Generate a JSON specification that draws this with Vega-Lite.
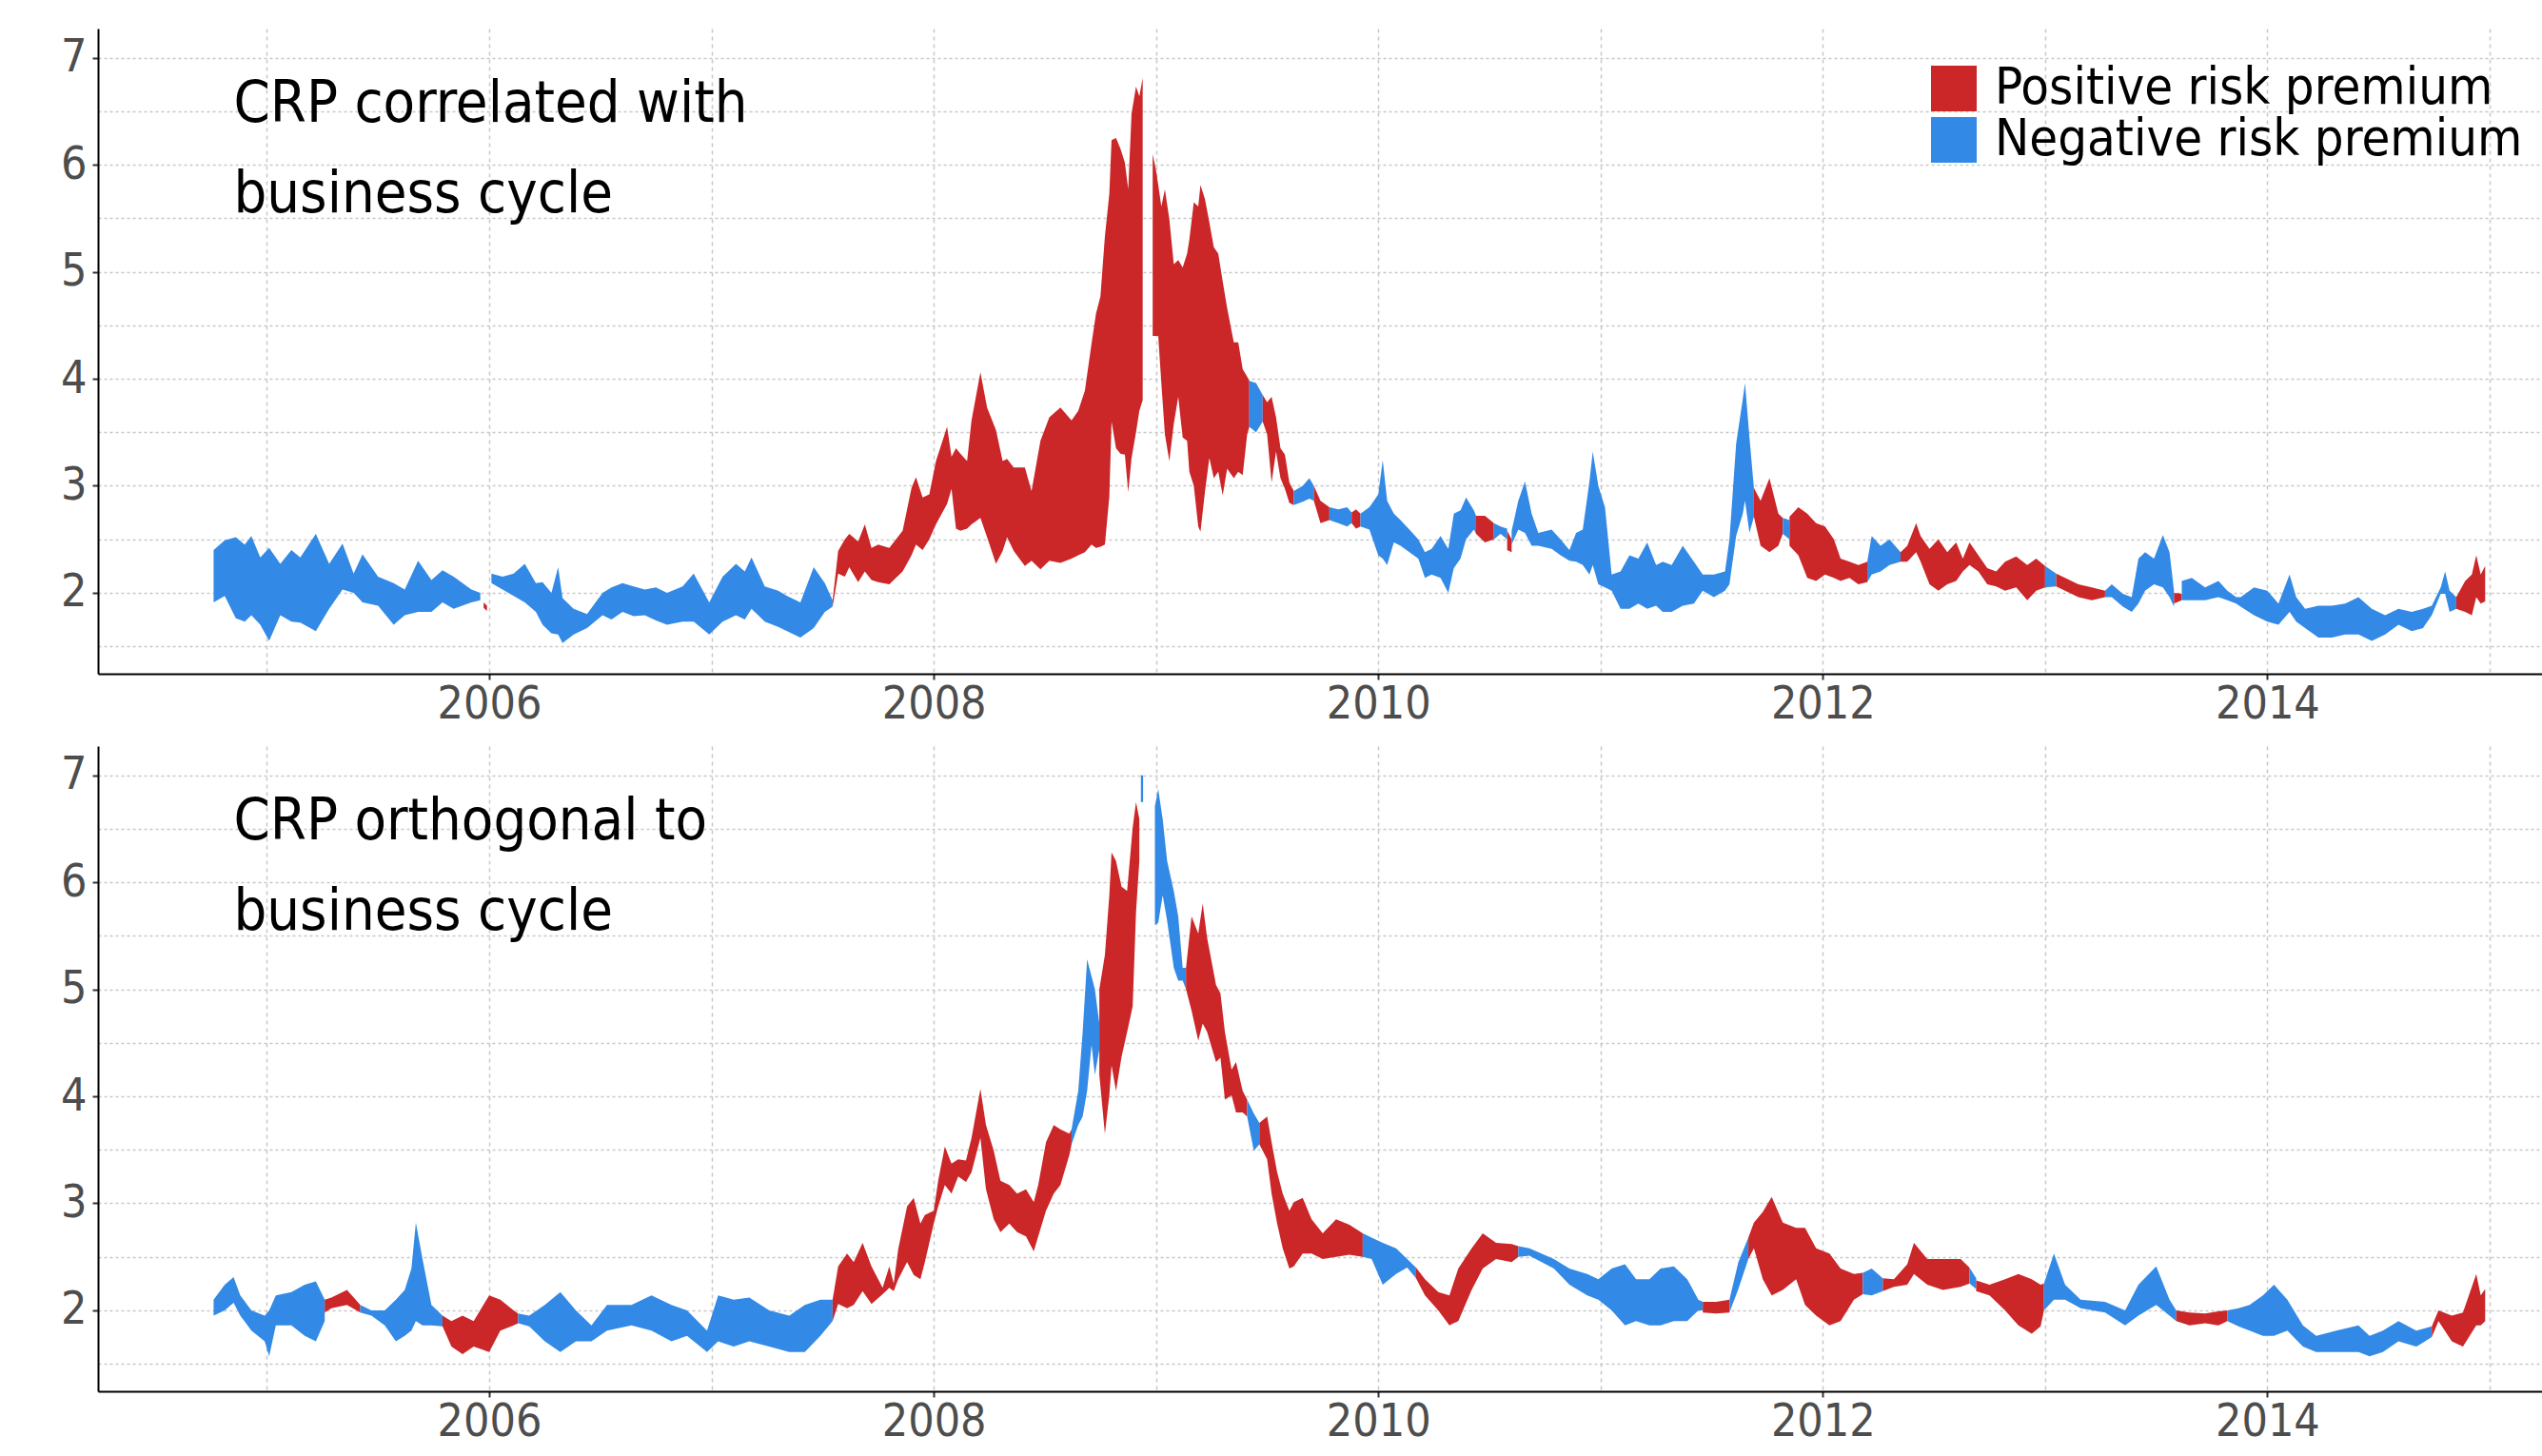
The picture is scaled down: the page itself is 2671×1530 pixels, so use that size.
{
"$schema": "https://vega.github.io/schema/vega-lite/v6.json",
"autosize": {"type": "pad"},
"padding": {"left": 63, "top": 30, "right": 0, "bottom": 0},
"bounds": "flush",
"spacing": 76,
"background": "white",
"config": {"view": {"stroke": null}, "font": "DejaVu Sans Condensed, Liberation Sans"},
"datasets": {
"top": [
{"s":1,"c":"N","t":2004.76,"lo":1.91,"hi":2.40},{"s":1,"c":"N","t":2004.81,"lo":1.97,"hi":2.49},{"s":1,"c":"N","t":2004.86,"lo":1.76,"hi":2.52},{"s":1,"c":"N","t":2004.90,"lo":1.73,"hi":2.45},{"s":1,"c":"N","t":2004.93,"lo":1.79,"hi":2.53},{"s":1,"c":"N","t":2004.97,"lo":1.70,"hi":2.33},{"s":1,"c":"N","t":2005.01,"lo":1.55,"hi":2.42},{"s":1,"c":"N","t":2005.06,"lo":1.79,"hi":2.27},{"s":1,"c":"N","t":2005.11,"lo":1.73,"hi":2.40},{"s":1,"c":"N","t":2005.15,"lo":1.72,"hi":2.33},{"s":1,"c":"N","t":2005.22,"lo":1.64,"hi":2.55},{"s":1,"c":"N","t":2005.28,"lo":1.85,"hi":2.27},{"s":1,"c":"N","t":2005.34,"lo":2.03,"hi":2.46},{"s":1,"c":"N","t":2005.39,"lo":2.00,"hi":2.18},{"s":1,"c":"N","t":2005.43,"lo":1.91,"hi":2.36},{"s":1,"c":"N","t":2005.50,"lo":1.88,"hi":2.15},{"s":1,"c":"N","t":2005.57,"lo":1.70,"hi":2.09},{"s":1,"c":"N","t":2005.62,"lo":1.79,"hi":2.03},{"s":1,"c":"N","t":2005.68,"lo":1.82,"hi":2.30},{"s":1,"c":"N","t":2005.74,"lo":1.82,"hi":2.12},{"s":1,"c":"N","t":2005.79,"lo":1.91,"hi":2.21},{"s":1,"c":"N","t":2005.84,"lo":1.85,"hi":2.15},{"s":1,"c":"N","t":2005.92,"lo":1.91,"hi":2.03},{"s":1,"c":"N","t":2005.96,"lo":1.93,"hi":2.00},
{"s":2,"c":"P","t":2005.975,"lo":1.86,"hi":1.91},{"s":2,"c":"P","t":2005.99,"lo":1.83,"hi":1.88},
{"s":3,"c":"N","t":2006.01,"lo":2.09,"hi":2.18},{"s":3,"c":"N","t":2006.06,"lo":2.03,"hi":2.15},{"s":3,"c":"N","t":2006.11,"lo":1.97,"hi":2.18},{"s":3,"c":"N","t":2006.16,"lo":1.91,"hi":2.27},{"s":3,"c":"N","t":2006.21,"lo":1.82,"hi":2.09},{"s":3,"c":"N","t":2006.24,"lo":1.70,"hi":2.10},{"s":3,"c":"N","t":2006.28,"lo":1.62,"hi":2.00},{"s":3,"c":"N","t":2006.31,"lo":1.61,"hi":2.24},{"s":3,"c":"N","t":2006.33,"lo":1.53,"hi":1.95},{"s":3,"c":"N","t":2006.38,"lo":1.61,"hi":1.85},{"s":3,"c":"N","t":2006.44,"lo":1.67,"hi":1.80},{"s":3,"c":"N","t":2006.51,"lo":1.79,"hi":2.00},{"s":3,"c":"N","t":2006.55,"lo":1.75,"hi":2.05},{"s":3,"c":"N","t":2006.60,"lo":1.82,"hi":2.09},{"s":3,"c":"N","t":2006.65,"lo":1.78,"hi":2.06},{"s":3,"c":"N","t":2006.70,"lo":1.79,"hi":2.03},{"s":3,"c":"N","t":2006.75,"lo":1.74,"hi":2.05},{"s":3,"c":"N","t":2006.80,"lo":1.70,"hi":2.00},{"s":3,"c":"N","t":2006.87,"lo":1.73,"hi":2.06},{"s":3,"c":"N","t":2006.92,"lo":1.73,"hi":2.18},{"s":3,"c":"N","t":2006.99,"lo":1.61,"hi":1.91},{"s":3,"c":"N","t":2007.05,"lo":1.73,"hi":2.15},{"s":3,"c":"N","t":2007.11,"lo":1.79,"hi":2.27},{"s":3,"c":"N","t":2007.15,"lo":1.75,"hi":2.20},{"s":3,"c":"N","t":2007.18,"lo":1.85,"hi":2.33},{"s":3,"c":"N","t":2007.24,"lo":1.73,"hi":2.06},{"s":3,"c":"N","t":2007.30,"lo":1.68,"hi":2.02},{"s":3,"c":"N","t":2007.34,"lo":1.64,"hi":1.97},{"s":3,"c":"N","t":2007.40,"lo":1.58,"hi":1.91},{"s":3,"c":"N","t":2007.46,"lo":1.67,"hi":2.24},{"s":3,"c":"N","t":2007.51,"lo":1.82,"hi":2.09},{"s":3,"c":"N","t":2007.545,"lo":1.87,"hi":1.93},
{"s":4,"c":"P","t":2007.545,"lo":1.87,"hi":1.93},{"s":4,"c":"P","t":2007.57,"lo":2.18,"hi":2.39},{"s":4,"c":"P","t":2007.60,"lo":2.15,"hi":2.50},{"s":4,"c":"P","t":2007.62,"lo":2.24,"hi":2.55},{"s":4,"c":"P","t":2007.66,"lo":2.10,"hi":2.48},{"s":4,"c":"P","t":2007.69,"lo":2.20,"hi":2.64},{"s":4,"c":"P","t":2007.72,"lo":2.12,"hi":2.42},{"s":4,"c":"P","t":2007.75,"lo":2.10,"hi":2.45},{"s":4,"c":"P","t":2007.80,"lo":2.08,"hi":2.42},{"s":4,"c":"P","t":2007.86,"lo":2.20,"hi":2.58},{"s":4,"c":"P","t":2007.90,"lo":2.35,"hi":2.98},{"s":4,"c":"P","t":2007.92,"lo":2.45,"hi":3.08},{"s":4,"c":"P","t":2007.95,"lo":2.40,"hi":2.89},{"s":4,"c":"P","t":2007.98,"lo":2.50,"hi":2.92},{"s":4,"c":"P","t":2008.01,"lo":2.64,"hi":3.23},{"s":4,"c":"P","t":2008.06,"lo":2.83,"hi":3.55},{"s":4,"c":"P","t":2008.08,"lo":2.97,"hi":3.27},{"s":4,"c":"P","t":2008.10,"lo":2.60,"hi":3.35},{"s":4,"c":"P","t":2008.12,"lo":2.58,"hi":3.30},{"s":4,"c":"P","t":2008.15,"lo":2.60,"hi":3.23},{"s":4,"c":"P","t":2008.17,"lo":2.64,"hi":3.61},{"s":4,"c":"P","t":2008.21,"lo":2.70,"hi":4.06},{"s":4,"c":"P","t":2008.24,"lo":2.52,"hi":3.73},{"s":4,"c":"P","t":2008.28,"lo":2.27,"hi":3.52},{"s":4,"c":"P","t":2008.31,"lo":2.39,"hi":3.23},{"s":4,"c":"P","t":2008.33,"lo":2.52,"hi":3.25},{"s":4,"c":"P","t":2008.36,"lo":2.39,"hi":3.17},{"s":4,"c":"P","t":2008.41,"lo":2.25,"hi":3.17},{"s":4,"c":"P","t":2008.44,"lo":2.30,"hi":2.95},{"s":4,"c":"P","t":2008.48,"lo":2.22,"hi":3.42},{"s":4,"c":"P","t":2008.52,"lo":2.30,"hi":3.64},{"s":4,"c":"P","t":2008.57,"lo":2.28,"hi":3.73},{"s":4,"c":"P","t":2008.62,"lo":2.32,"hi":3.61},{"s":4,"c":"P","t":2008.65,"lo":2.35,"hi":3.70},{"s":4,"c":"P","t":2008.68,"lo":2.38,"hi":3.89},{"s":4,"c":"P","t":2008.71,"lo":2.45,"hi":4.33},{"s":4,"c":"P","t":2008.73,"lo":2.42,"hi":4.61},{"s":4,"c":"P","t":2008.75,"lo":2.43,"hi":4.77},{"s":4,"c":"P","t":2008.77,"lo":2.45,"hi":5.33},{"s":4,"c":"P","t":2008.79,"lo":2.90,"hi":5.73},{"s":4,"c":"P","t":2008.80,"lo":3.60,"hi":6.23},{"s":4,"c":"P","t":2008.82,"lo":3.35,"hi":6.25},{"s":4,"c":"P","t":2008.84,"lo":3.30,"hi":6.15},{"s":4,"c":"P","t":2008.86,"lo":3.29,"hi":6.02},{"s":4,"c":"P","t":2008.875,"lo":2.94,"hi":5.77},{"s":4,"c":"P","t":2008.89,"lo":3.26,"hi":6.48},{"s":4,"c":"P","t":2008.91,"lo":3.50,"hi":6.73},{"s":4,"c":"P","t":2008.925,"lo":3.70,"hi":6.64},{"s":4,"c":"P","t":2008.94,"lo":3.80,"hi":6.81},
{"s":5,"c":"P","t":2008.985,"lo":4.40,"hi":6.10},{"s":5,"c":"P","t":2009.00,"lo":4.40,"hi":5.95},{"s":5,"c":"P","t":2009.01,"lo":4.40,"hi":5.81},{"s":5,"c":"P","t":2009.024,"lo":3.96,"hi":5.61},{"s":5,"c":"P","t":2009.04,"lo":3.48,"hi":5.77},{"s":5,"c":"P","t":2009.06,"lo":3.23,"hi":5.49},{"s":5,"c":"P","t":2009.08,"lo":3.58,"hi":5.07},{"s":5,"c":"P","t":2009.10,"lo":3.83,"hi":5.11},{"s":5,"c":"P","t":2009.12,"lo":3.45,"hi":5.04},{"s":5,"c":"P","t":2009.14,"lo":3.42,"hi":5.17},{"s":5,"c":"P","t":2009.15,"lo":3.13,"hi":5.30},{"s":5,"c":"P","t":2009.17,"lo":3.00,"hi":5.65},{"s":5,"c":"P","t":2009.19,"lo":2.62,"hi":5.61},{"s":5,"c":"P","t":2009.20,"lo":2.57,"hi":5.81},{"s":5,"c":"P","t":2009.22,"lo":2.94,"hi":5.68},{"s":5,"c":"P","t":2009.24,"lo":3.26,"hi":5.46},{"s":5,"c":"P","t":2009.26,"lo":3.07,"hi":5.23},{"s":5,"c":"P","t":2009.28,"lo":3.13,"hi":5.17},{"s":5,"c":"P","t":2009.30,"lo":2.91,"hi":4.91},{"s":5,"c":"P","t":2009.32,"lo":3.16,"hi":4.66},{"s":5,"c":"P","t":2009.35,"lo":3.07,"hi":4.34},{"s":5,"c":"P","t":2009.37,"lo":3.13,"hi":4.34},{"s":5,"c":"P","t":2009.39,"lo":3.10,"hi":4.09},{"s":5,"c":"P","t":2009.41,"lo":3.48,"hi":4.02},{"s":5,"c":"P","t":2009.42,"lo":3.55,"hi":3.98},
{"s":6,"c":"N","t":2009.42,"lo":3.55,"hi":3.98},{"s":6,"c":"N","t":2009.45,"lo":3.50,"hi":3.96},{"s":6,"c":"N","t":2009.48,"lo":3.60,"hi":3.85},
{"s":7,"c":"P","t":2009.48,"lo":3.60,"hi":3.85},{"s":7,"c":"P","t":2009.50,"lo":3.48,"hi":3.78},{"s":7,"c":"P","t":2009.52,"lo":3.03,"hi":3.83},{"s":7,"c":"P","t":2009.54,"lo":3.32,"hi":3.64},{"s":7,"c":"P","t":2009.56,"lo":3.07,"hi":3.35},{"s":7,"c":"P","t":2009.58,"lo":2.97,"hi":3.29},{"s":7,"c":"P","t":2009.60,"lo":2.84,"hi":3.03},{"s":7,"c":"P","t":2009.62,"lo":2.82,"hi":2.95},
{"s":8,"c":"N","t":2009.62,"lo":2.82,"hi":2.95},{"s":8,"c":"N","t":2009.66,"lo":2.85,"hi":3.00},{"s":8,"c":"N","t":2009.69,"lo":2.88,"hi":3.07},{"s":8,"c":"N","t":2009.71,"lo":2.86,"hi":3.00},
{"s":9,"c":"P","t":2009.71,"lo":2.86,"hi":3.00},{"s":9,"c":"P","t":2009.74,"lo":2.65,"hi":2.86},{"s":9,"c":"P","t":2009.78,"lo":2.68,"hi":2.80},
{"s":10,"c":"N","t":2009.78,"lo":2.68,"hi":2.80},{"s":10,"c":"N","t":2009.82,"lo":2.65,"hi":2.78},{"s":10,"c":"N","t":2009.86,"lo":2.62,"hi":2.80},{"s":10,"c":"N","t":2009.88,"lo":2.65,"hi":2.75},
{"s":11,"c":"P","t":2009.88,"lo":2.65,"hi":2.75},{"s":11,"c":"P","t":2009.90,"lo":2.60,"hi":2.78},{"s":11,"c":"P","t":2009.92,"lo":2.62,"hi":2.74},
{"s":12,"c":"N","t":2009.92,"lo":2.62,"hi":2.74},{"s":12,"c":"N","t":2009.96,"lo":2.59,"hi":2.80},{"s":12,"c":"N","t":2010.00,"lo":2.35,"hi":2.92},{"s":12,"c":"N","t":2010.02,"lo":2.32,"hi":3.24},{"s":12,"c":"N","t":2010.04,"lo":2.26,"hi":2.86},{"s":12,"c":"N","t":2010.07,"lo":2.47,"hi":2.74},{"s":12,"c":"N","t":2010.10,"lo":2.44,"hi":2.68},{"s":12,"c":"N","t":2010.14,"lo":2.38,"hi":2.59},{"s":12,"c":"N","t":2010.18,"lo":2.32,"hi":2.50},{"s":12,"c":"N","t":2010.21,"lo":2.14,"hi":2.38},{"s":12,"c":"N","t":2010.24,"lo":2.17,"hi":2.41},{"s":12,"c":"N","t":2010.28,"lo":2.14,"hi":2.53},{"s":12,"c":"N","t":2010.315,"lo":2.00,"hi":2.41},{"s":12,"c":"N","t":2010.34,"lo":2.23,"hi":2.74},{"s":12,"c":"N","t":2010.37,"lo":2.32,"hi":2.77},{"s":12,"c":"N","t":2010.395,"lo":2.50,"hi":2.89},{"s":12,"c":"N","t":2010.43,"lo":2.59,"hi":2.77},{"s":12,"c":"N","t":2010.44,"lo":2.55,"hi":2.72},
{"s":13,"c":"P","t":2010.44,"lo":2.55,"hi":2.72},{"s":13,"c":"P","t":2010.48,"lo":2.47,"hi":2.72},{"s":13,"c":"P","t":2010.52,"lo":2.50,"hi":2.65},
{"s":14,"c":"N","t":2010.52,"lo":2.50,"hi":2.65},{"s":14,"c":"N","t":2010.55,"lo":2.55,"hi":2.62},{"s":14,"c":"N","t":2010.58,"lo":2.50,"hi":2.60},
{"s":15,"c":"P","t":2010.58,"lo":2.40,"hi":2.58},{"s":15,"c":"P","t":2010.60,"lo":2.38,"hi":2.50},
{"s":16,"c":"N","t":2010.60,"lo":2.45,"hi":2.58},{"s":16,"c":"N","t":2010.63,"lo":2.59,"hi":2.86},{"s":16,"c":"N","t":2010.66,"lo":2.56,"hi":3.04},{"s":16,"c":"N","t":2010.69,"lo":2.44,"hi":2.74},{"s":16,"c":"N","t":2010.72,"lo":2.44,"hi":2.56},{"s":16,"c":"N","t":2010.78,"lo":2.41,"hi":2.59},{"s":16,"c":"N","t":2010.82,"lo":2.35,"hi":2.50},{"s":16,"c":"N","t":2010.86,"lo":2.30,"hi":2.40},{"s":16,"c":"N","t":2010.89,"lo":2.29,"hi":2.56},{"s":16,"c":"N","t":2010.92,"lo":2.26,"hi":2.59},{"s":16,"c":"N","t":2010.95,"lo":2.17,"hi":3.04},{"s":16,"c":"N","t":2010.965,"lo":2.26,"hi":3.32},{"s":16,"c":"N","t":2010.99,"lo":2.08,"hi":3.00},{"s":16,"c":"N","t":2011.02,"lo":2.05,"hi":2.80},{"s":16,"c":"N","t":2011.05,"lo":2.02,"hi":2.17},{"s":16,"c":"N","t":2011.09,"lo":1.85,"hi":2.20},{"s":16,"c":"N","t":2011.13,"lo":1.85,"hi":2.35},{"s":16,"c":"N","t":2011.17,"lo":1.90,"hi":2.32},{"s":16,"c":"N","t":2011.21,"lo":1.85,"hi":2.47},{"s":16,"c":"N","t":2011.25,"lo":1.88,"hi":2.26},{"s":16,"c":"N","t":2011.28,"lo":1.82,"hi":2.29},{"s":16,"c":"N","t":2011.32,"lo":1.82,"hi":2.26},{"s":16,"c":"N","t":2011.37,"lo":1.88,"hi":2.44},{"s":16,"c":"N","t":2011.42,"lo":1.90,"hi":2.29},{"s":16,"c":"N","t":2011.46,"lo":2.02,"hi":2.17},{"s":16,"c":"N","t":2011.51,"lo":1.96,"hi":2.17},{"s":16,"c":"N","t":2011.56,"lo":2.02,"hi":2.20},{"s":16,"c":"N","t":2011.58,"lo":2.08,"hi":2.50},{"s":16,"c":"N","t":2011.61,"lo":2.53,"hi":3.39},{"s":16,"c":"N","t":2011.64,"lo":2.74,"hi":3.81},{"s":16,"c":"N","t":2011.65,"lo":2.86,"hi":3.96},{"s":16,"c":"N","t":2011.67,"lo":2.56,"hi":3.45},{"s":16,"c":"N","t":2011.69,"lo":2.71,"hi":2.98},
{"s":17,"c":"P","t":2011.69,"lo":2.71,"hi":2.98},{"s":17,"c":"P","t":2011.72,"lo":2.44,"hi":2.86},{"s":17,"c":"P","t":2011.76,"lo":2.38,"hi":3.07},{"s":17,"c":"P","t":2011.80,"lo":2.44,"hi":2.74},{"s":17,"c":"P","t":2011.82,"lo":2.55,"hi":2.70},
{"s":18,"c":"N","t":2011.82,"lo":2.55,"hi":2.70},{"s":18,"c":"N","t":2011.85,"lo":2.50,"hi":2.68},
{"s":19,"c":"P","t":2011.85,"lo":2.44,"hi":2.71},{"s":19,"c":"P","t":2011.89,"lo":2.35,"hi":2.80},{"s":19,"c":"P","t":2011.93,"lo":2.14,"hi":2.74},{"s":19,"c":"P","t":2011.97,"lo":2.11,"hi":2.65},{"s":19,"c":"P","t":2012.01,"lo":2.17,"hi":2.62},{"s":19,"c":"P","t":2012.05,"lo":2.14,"hi":2.50},{"s":19,"c":"P","t":2012.08,"lo":2.11,"hi":2.32},{"s":19,"c":"P","t":2012.12,"lo":2.14,"hi":2.29},{"s":19,"c":"P","t":2012.16,"lo":2.08,"hi":2.26},{"s":19,"c":"P","t":2012.20,"lo":2.10,"hi":2.29},
{"s":20,"c":"N","t":2012.20,"lo":2.10,"hi":2.29},{"s":20,"c":"N","t":2012.22,"lo":2.17,"hi":2.53},{"s":20,"c":"N","t":2012.26,"lo":2.20,"hi":2.44},{"s":20,"c":"N","t":2012.30,"lo":2.26,"hi":2.50},{"s":20,"c":"N","t":2012.35,"lo":2.29,"hi":2.38},
{"s":21,"c":"P","t":2012.35,"lo":2.29,"hi":2.38},{"s":21,"c":"P","t":2012.38,"lo":2.29,"hi":2.44},{"s":21,"c":"P","t":2012.42,"lo":2.38,"hi":2.65},{"s":21,"c":"P","t":2012.44,"lo":2.29,"hi":2.53},{"s":21,"c":"P","t":2012.48,"lo":2.08,"hi":2.41},{"s":21,"c":"P","t":2012.52,"lo":2.02,"hi":2.50},{"s":21,"c":"P","t":2012.56,"lo":2.08,"hi":2.38},{"s":21,"c":"P","t":2012.60,"lo":2.11,"hi":2.47},{"s":21,"c":"P","t":2012.63,"lo":2.20,"hi":2.32},{"s":21,"c":"P","t":2012.66,"lo":2.26,"hi":2.47},{"s":21,"c":"P","t":2012.70,"lo":2.20,"hi":2.35},{"s":21,"c":"P","t":2012.74,"lo":2.08,"hi":2.23},{"s":21,"c":"P","t":2012.78,"lo":2.06,"hi":2.20},{"s":21,"c":"P","t":2012.82,"lo":2.02,"hi":2.29},{"s":21,"c":"P","t":2012.87,"lo":2.05,"hi":2.34},{"s":21,"c":"P","t":2012.92,"lo":1.93,"hi":2.26},{"s":21,"c":"P","t":2012.96,"lo":2.02,"hi":2.32},{"s":21,"c":"P","t":2013.00,"lo":2.05,"hi":2.25},
{"s":22,"c":"N","t":2013.00,"lo":2.05,"hi":2.25},{"s":22,"c":"N","t":2013.05,"lo":2.06,"hi":2.18},
{"s":23,"c":"P","t":2013.05,"lo":2.06,"hi":2.18},{"s":23,"c":"P","t":2013.09,"lo":2.02,"hi":2.14},{"s":23,"c":"P","t":2013.15,"lo":1.96,"hi":2.08},{"s":23,"c":"P","t":2013.21,"lo":1.93,"hi":2.05},{"s":23,"c":"P","t":2013.27,"lo":1.96,"hi":2.02},
{"s":24,"c":"N","t":2013.27,"lo":1.96,"hi":2.02},{"s":24,"c":"N","t":2013.30,"lo":1.96,"hi":2.08},{"s":24,"c":"N","t":2013.35,"lo":1.87,"hi":1.99},{"s":24,"c":"N","t":2013.39,"lo":1.82,"hi":1.96},{"s":24,"c":"N","t":2013.42,"lo":1.90,"hi":2.32},{"s":24,"c":"N","t":2013.45,"lo":2.02,"hi":2.38},{"s":24,"c":"N","t":2013.49,"lo":2.08,"hi":2.32},{"s":24,"c":"N","t":2013.53,"lo":2.05,"hi":2.54},{"s":24,"c":"N","t":2013.56,"lo":1.96,"hi":2.38},{"s":24,"c":"N","t":2013.58,"lo":1.87,"hi":2.02},
{"s":25,"c":"P","t":2013.58,"lo":1.90,"hi":2.00},{"s":25,"c":"P","t":2013.615,"lo":1.93,"hi":1.99},
{"s":26,"c":"N","t":2013.615,"lo":1.93,"hi":2.11},{"s":26,"c":"N","t":2013.66,"lo":1.93,"hi":2.14},{"s":26,"c":"N","t":2013.72,"lo":1.93,"hi":2.05},{"s":26,"c":"N","t":2013.78,"lo":1.96,"hi":2.11},{"s":26,"c":"N","t":2013.82,"lo":1.93,"hi":2.02},{"s":26,"c":"N","t":2013.86,"lo":1.90,"hi":1.96},{"s":26,"c":"N","t":2013.88,"lo":1.87,"hi":1.96},{"s":26,"c":"N","t":2013.94,"lo":1.79,"hi":2.05},{"s":26,"c":"N","t":2014.00,"lo":1.73,"hi":2.02},{"s":26,"c":"N","t":2014.05,"lo":1.70,"hi":1.90},{"s":26,"c":"N","t":2014.10,"lo":1.82,"hi":2.17},{"s":26,"c":"N","t":2014.13,"lo":1.73,"hi":1.96},{"s":26,"c":"N","t":2014.17,"lo":1.67,"hi":1.85},{"s":26,"c":"N","t":2014.23,"lo":1.58,"hi":1.88},{"s":26,"c":"N","t":2014.29,"lo":1.58,"hi":1.88},{"s":26,"c":"N","t":2014.35,"lo":1.61,"hi":1.90},{"s":26,"c":"N","t":2014.41,"lo":1.61,"hi":1.96},{"s":26,"c":"N","t":2014.47,"lo":1.55,"hi":1.85},{"s":26,"c":"N","t":2014.53,"lo":1.61,"hi":1.79},{"s":26,"c":"N","t":2014.59,"lo":1.70,"hi":1.85},{"s":26,"c":"N","t":2014.65,"lo":1.64,"hi":1.82},{"s":26,"c":"N","t":2014.70,"lo":1.67,"hi":1.85},{"s":26,"c":"N","t":2014.74,"lo":1.79,"hi":1.88},{"s":26,"c":"N","t":2014.78,"lo":1.99,"hi":2.05},{"s":26,"c":"N","t":2014.80,"lo":1.99,"hi":2.20},{"s":26,"c":"N","t":2014.82,"lo":1.82,"hi":2.02},{"s":26,"c":"N","t":2014.85,"lo":1.85,"hi":1.96},
{"s":27,"c":"P","t":2014.85,"lo":1.85,"hi":1.96},{"s":27,"c":"P","t":2014.89,"lo":1.82,"hi":2.11},{"s":27,"c":"P","t":2014.92,"lo":1.79,"hi":2.17},{"s":27,"c":"P","t":2014.94,"lo":1.96,"hi":2.35},{"s":27,"c":"P","t":2014.96,"lo":1.90,"hi":2.17},{"s":27,"c":"P","t":2014.98,"lo":1.92,"hi":2.25}
],
"bottom": [
{"s":1,"c":"N","t":2004.76,"lo":1.95,"hi":2.10},{"s":1,"c":"N","t":2004.81,"lo":2.00,"hi":2.24},{"s":1,"c":"N","t":2004.85,"lo":2.07,"hi":2.31},{"s":1,"c":"N","t":2004.88,"lo":1.95,"hi":2.14},{"s":1,"c":"N","t":2004.93,"lo":1.81,"hi":2.00},{"s":1,"c":"N","t":2004.99,"lo":1.71,"hi":1.95},{"s":1,"c":"N","t":2005.01,"lo":1.57,"hi":2.00},{"s":1,"c":"N","t":2005.04,"lo":1.86,"hi":2.14},{"s":1,"c":"N","t":2005.11,"lo":1.86,"hi":2.17},{"s":1,"c":"N","t":2005.17,"lo":1.76,"hi":2.24},{"s":1,"c":"N","t":2005.22,"lo":1.71,"hi":2.27},{"s":1,"c":"N","t":2005.26,"lo":1.90,"hi":2.10},
{"s":2,"c":"P","t":2005.26,"lo":1.98,"hi":2.10},{"s":2,"c":"P","t":2005.29,"lo":2.02,"hi":2.12},{"s":2,"c":"P","t":2005.36,"lo":2.05,"hi":2.19},{"s":2,"c":"P","t":2005.42,"lo":1.98,"hi":2.05},
{"s":3,"c":"N","t":2005.42,"lo":1.98,"hi":2.05},{"s":3,"c":"N","t":2005.47,"lo":1.95,"hi":2.00},{"s":3,"c":"N","t":2005.53,"lo":1.86,"hi":2.00},{"s":3,"c":"N","t":2005.58,"lo":1.71,"hi":2.10},{"s":3,"c":"N","t":2005.62,"lo":1.76,"hi":2.19},{"s":3,"c":"N","t":2005.65,"lo":1.81,"hi":2.39},{"s":3,"c":"N","t":2005.67,"lo":1.90,"hi":2.82},{"s":3,"c":"N","t":2005.70,"lo":1.86,"hi":2.48},{"s":3,"c":"N","t":2005.74,"lo":1.86,"hi":2.05},{"s":3,"c":"N","t":2005.79,"lo":1.85,"hi":1.95},
{"s":4,"c":"P","t":2005.79,"lo":1.85,"hi":1.95},{"s":4,"c":"P","t":2005.83,"lo":1.66,"hi":1.90},{"s":4,"c":"P","t":2005.88,"lo":1.59,"hi":1.95},{"s":4,"c":"P","t":2005.93,"lo":1.66,"hi":1.90},{"s":4,"c":"P","t":2006.00,"lo":1.61,"hi":2.14},{"s":4,"c":"P","t":2006.05,"lo":1.81,"hi":2.10},{"s":4,"c":"P","t":2006.11,"lo":1.86,"hi":2.00},{"s":4,"c":"P","t":2006.13,"lo":1.88,"hi":1.97},
{"s":5,"c":"N","t":2006.13,"lo":1.88,"hi":1.97},{"s":5,"c":"N","t":2006.18,"lo":1.85,"hi":1.95},{"s":5,"c":"N","t":2006.25,"lo":1.71,"hi":2.05},{"s":5,"c":"N","t":2006.32,"lo":1.61,"hi":2.17},{"s":5,"c":"N","t":2006.39,"lo":1.71,"hi":2.00},{"s":5,"c":"N","t":2006.46,"lo":1.71,"hi":1.86},{"s":5,"c":"N","t":2006.53,"lo":1.81,"hi":2.05},{"s":5,"c":"N","t":2006.64,"lo":1.86,"hi":2.05},{"s":5,"c":"N","t":2006.73,"lo":1.81,"hi":2.14},{"s":5,"c":"N","t":2006.82,"lo":1.71,"hi":2.05},{"s":5,"c":"N","t":2006.89,"lo":1.76,"hi":2.00},{"s":5,"c":"N","t":2006.98,"lo":1.61,"hi":1.81},{"s":5,"c":"N","t":2007.03,"lo":1.71,"hi":2.14},{"s":5,"c":"N","t":2007.10,"lo":1.66,"hi":2.10},{"s":5,"c":"N","t":2007.17,"lo":1.71,"hi":2.12},{"s":5,"c":"N","t":2007.26,"lo":1.66,"hi":2.00},{"s":5,"c":"N","t":2007.35,"lo":1.61,"hi":1.95},{"s":5,"c":"N","t":2007.42,"lo":1.61,"hi":2.05},{"s":5,"c":"N","t":2007.49,"lo":1.76,"hi":2.10},{"s":5,"c":"N","t":2007.545,"lo":1.90,"hi":2.10},
{"s":6,"c":"P","t":2007.545,"lo":1.90,"hi":2.10},{"s":6,"c":"P","t":2007.57,"lo":2.06,"hi":2.41},{"s":6,"c":"P","t":2007.61,"lo":2.02,"hi":2.53},{"s":6,"c":"P","t":2007.64,"lo":2.05,"hi":2.45},{"s":6,"c":"P","t":2007.68,"lo":2.18,"hi":2.63},{"s":6,"c":"P","t":2007.72,"lo":2.06,"hi":2.41},{"s":6,"c":"P","t":2007.77,"lo":2.15,"hi":2.21},{"s":6,"c":"P","t":2007.80,"lo":2.21,"hi":2.41},{"s":6,"c":"P","t":2007.82,"lo":2.18,"hi":2.25},{"s":6,"c":"P","t":2007.84,"lo":2.29,"hi":2.57},{"s":6,"c":"P","t":2007.88,"lo":2.45,"hi":2.97},{"s":6,"c":"P","t":2007.91,"lo":2.33,"hi":3.05},{"s":6,"c":"P","t":2007.94,"lo":2.29,"hi":2.81},{"s":6,"c":"P","t":2007.96,"lo":2.45,"hi":2.89},{"s":6,"c":"P","t":2008.00,"lo":2.81,"hi":2.93},{"s":6,"c":"P","t":2008.02,"lo":2.97,"hi":3.21},{"s":6,"c":"P","t":2008.05,"lo":3.17,"hi":3.53},{"s":6,"c":"P","t":2008.08,"lo":3.09,"hi":3.37},{"s":6,"c":"P","t":2008.11,"lo":3.25,"hi":3.41},{"s":6,"c":"P","t":2008.145,"lo":3.20,"hi":3.40},{"s":6,"c":"P","t":2008.17,"lo":3.29,"hi":3.61},{"s":6,"c":"P","t":2008.21,"lo":3.61,"hi":4.07},{"s":6,"c":"P","t":2008.235,"lo":3.13,"hi":3.73},{"s":6,"c":"P","t":2008.27,"lo":2.85,"hi":3.49},{"s":6,"c":"P","t":2008.30,"lo":2.73,"hi":3.21},{"s":6,"c":"P","t":2008.34,"lo":2.81,"hi":3.17},{"s":6,"c":"P","t":2008.375,"lo":2.73,"hi":3.09},{"s":6,"c":"P","t":2008.415,"lo":2.69,"hi":3.13},{"s":6,"c":"P","t":2008.45,"lo":2.55,"hi":3.01},{"s":6,"c":"P","t":2008.47,"lo":2.69,"hi":3.17},{"s":6,"c":"P","t":2008.505,"lo":2.93,"hi":3.57},{"s":6,"c":"P","t":2008.54,"lo":3.09,"hi":3.73},{"s":6,"c":"P","t":2008.57,"lo":3.17,"hi":3.69},{"s":6,"c":"P","t":2008.61,"lo":3.45,"hi":3.65},{"s":6,"c":"P","t":2008.62,"lo":3.55,"hi":3.69},
{"s":7,"c":"N","t":2008.62,"lo":3.55,"hi":3.69},{"s":7,"c":"N","t":2008.65,"lo":3.73,"hi":4.05},{"s":7,"c":"N","t":2008.67,"lo":3.81,"hi":4.60},{"s":7,"c":"N","t":2008.69,"lo":4.05,"hi":5.28},{"s":7,"c":"N","t":2008.71,"lo":4.48,"hi":5.12},{"s":7,"c":"N","t":2008.725,"lo":4.20,"hi":5.00},{"s":7,"c":"N","t":2008.745,"lo":4.44,"hi":4.68},
{"s":8,"c":"P","t":2008.745,"lo":4.20,"hi":5.00},{"s":8,"c":"P","t":2008.77,"lo":3.65,"hi":5.32},{"s":8,"c":"P","t":2008.79,"lo":4.01,"hi":5.88},{"s":8,"c":"P","t":2008.80,"lo":4.29,"hi":6.28},{"s":8,"c":"P","t":2008.82,"lo":4.05,"hi":6.20},{"s":8,"c":"P","t":2008.845,"lo":4.37,"hi":5.96},{"s":8,"c":"P","t":2008.87,"lo":4.60,"hi":5.92},{"s":8,"c":"P","t":2008.895,"lo":4.84,"hi":6.51},{"s":8,"c":"P","t":2008.91,"lo":5.72,"hi":6.75},{"s":8,"c":"P","t":2008.925,"lo":6.20,"hi":6.59},
{"s":9,"c":"N","t":2008.932,"lo":6.75,"hi":7.00},{"s":9,"c":"N","t":2008.942,"lo":6.75,"hi":7.00},
{"s":10,"c":"N","t":2008.995,"lo":5.60,"hi":6.71},{"s":10,"c":"N","t":2009.01,"lo":5.62,"hi":6.87},{"s":10,"c":"N","t":2009.03,"lo":5.88,"hi":6.59},{"s":10,"c":"N","t":2009.05,"lo":5.64,"hi":6.20},{"s":10,"c":"N","t":2009.08,"lo":5.20,"hi":5.92},{"s":10,"c":"N","t":2009.10,"lo":5.08,"hi":5.68},{"s":10,"c":"N","t":2009.12,"lo":5.08,"hi":5.20},{"s":10,"c":"N","t":2009.135,"lo":5.00,"hi":5.20},
{"s":11,"c":"P","t":2009.135,"lo":5.00,"hi":5.20},{"s":11,"c":"P","t":2009.16,"lo":4.80,"hi":5.68},{"s":11,"c":"P","t":2009.19,"lo":4.52,"hi":5.52},{"s":11,"c":"P","t":2009.21,"lo":4.68,"hi":5.80},{"s":11,"c":"P","t":2009.23,"lo":4.60,"hi":5.48},{"s":11,"c":"P","t":2009.27,"lo":4.32,"hi":5.04},{"s":11,"c":"P","t":2009.29,"lo":4.36,"hi":4.96},{"s":11,"c":"P","t":2009.31,"lo":3.97,"hi":4.60},{"s":11,"c":"P","t":2009.34,"lo":4.01,"hi":4.25},{"s":11,"c":"P","t":2009.36,"lo":3.85,"hi":4.32},{"s":11,"c":"P","t":2009.39,"lo":3.85,"hi":4.05},{"s":11,"c":"P","t":2009.41,"lo":3.81,"hi":3.97},
{"s":12,"c":"N","t":2009.41,"lo":3.81,"hi":3.97},{"s":12,"c":"N","t":2009.44,"lo":3.49,"hi":3.84},{"s":12,"c":"N","t":2009.465,"lo":3.55,"hi":3.75},
{"s":13,"c":"P","t":2009.465,"lo":3.55,"hi":3.75},{"s":13,"c":"P","t":2009.50,"lo":3.41,"hi":3.81},{"s":13,"c":"P","t":2009.52,"lo":3.09,"hi":3.57},{"s":13,"c":"P","t":2009.545,"lo":2.81,"hi":3.29},{"s":13,"c":"P","t":2009.57,"lo":2.58,"hi":3.09},{"s":13,"c":"P","t":2009.60,"lo":2.39,"hi":2.93},{"s":13,"c":"P","t":2009.62,"lo":2.41,"hi":3.01},{"s":13,"c":"P","t":2009.66,"lo":2.53,"hi":3.05},{"s":13,"c":"P","t":2009.70,"lo":2.53,"hi":2.85},{"s":13,"c":"P","t":2009.75,"lo":2.48,"hi":2.72},{"s":13,"c":"P","t":2009.81,"lo":2.50,"hi":2.85},{"s":13,"c":"P","t":2009.87,"lo":2.52,"hi":2.80},{"s":13,"c":"P","t":2009.93,"lo":2.50,"hi":2.72},
{"s":14,"c":"N","t":2009.93,"lo":2.50,"hi":2.72},{"s":14,"c":"N","t":2009.97,"lo":2.48,"hi":2.68},{"s":14,"c":"N","t":2010.02,"lo":2.24,"hi":2.63},{"s":14,"c":"N","t":2010.08,"lo":2.34,"hi":2.58},{"s":14,"c":"N","t":2010.13,"lo":2.40,"hi":2.48},{"s":14,"c":"N","t":2010.17,"lo":2.30,"hi":2.40},
{"s":15,"c":"P","t":2010.17,"lo":2.30,"hi":2.40},{"s":15,"c":"P","t":2010.21,"lo":2.14,"hi":2.29},{"s":15,"c":"P","t":2010.27,"lo":2.00,"hi":2.17},{"s":15,"c":"P","t":2010.32,"lo":1.86,"hi":2.14},{"s":15,"c":"P","t":2010.36,"lo":1.90,"hi":2.39},{"s":15,"c":"P","t":2010.42,"lo":2.19,"hi":2.58},{"s":15,"c":"P","t":2010.47,"lo":2.39,"hi":2.72},{"s":15,"c":"P","t":2010.53,"lo":2.48,"hi":2.63},{"s":15,"c":"P","t":2010.60,"lo":2.45,"hi":2.62},{"s":15,"c":"P","t":2010.63,"lo":2.50,"hi":2.60},
{"s":16,"c":"N","t":2010.63,"lo":2.50,"hi":2.60},{"s":16,"c":"N","t":2010.68,"lo":2.51,"hi":2.58},{"s":16,"c":"N","t":2010.79,"lo":2.39,"hi":2.48},{"s":16,"c":"N","t":2010.86,"lo":2.24,"hi":2.39},{"s":16,"c":"N","t":2010.94,"lo":2.14,"hi":2.34},{"s":16,"c":"N","t":2010.99,"lo":2.10,"hi":2.29},{"s":16,"c":"N","t":2011.05,"lo":2.00,"hi":2.39},{"s":16,"c":"N","t":2011.11,"lo":1.86,"hi":2.43},{"s":16,"c":"N","t":2011.16,"lo":1.90,"hi":2.29},{"s":16,"c":"N","t":2011.22,"lo":1.86,"hi":2.29},{"s":16,"c":"N","t":2011.27,"lo":1.86,"hi":2.39},{"s":16,"c":"N","t":2011.33,"lo":1.90,"hi":2.41},{"s":16,"c":"N","t":2011.39,"lo":1.90,"hi":2.29},{"s":16,"c":"N","t":2011.44,"lo":2.00,"hi":2.10},{"s":16,"c":"N","t":2011.46,"lo":2.00,"hi":2.08},
{"s":17,"c":"P","t":2011.46,"lo":1.98,"hi":2.08},{"s":17,"c":"P","t":2011.52,"lo":1.97,"hi":2.08},{"s":17,"c":"P","t":2011.58,"lo":1.98,"hi":2.10},
{"s":18,"c":"N","t":2011.58,"lo":1.98,"hi":2.10},{"s":18,"c":"N","t":2011.62,"lo":2.20,"hi":2.45},{"s":18,"c":"N","t":2011.665,"lo":2.48,"hi":2.68},
{"s":19,"c":"P","t":2011.665,"lo":2.48,"hi":2.68},{"s":19,"c":"P","t":2011.69,"lo":2.58,"hi":2.82},{"s":19,"c":"P","t":2011.73,"lo":2.29,"hi":2.92},{"s":19,"c":"P","t":2011.77,"lo":2.14,"hi":3.06},{"s":19,"c":"P","t":2011.82,"lo":2.19,"hi":2.82},{"s":19,"c":"P","t":2011.88,"lo":2.29,"hi":2.77},{"s":19,"c":"P","t":2011.92,"lo":2.05,"hi":2.77},{"s":19,"c":"P","t":2011.97,"lo":1.95,"hi":2.58},{"s":19,"c":"P","t":2012.03,"lo":1.86,"hi":2.53},{"s":19,"c":"P","t":2012.08,"lo":1.90,"hi":2.39},{"s":19,"c":"P","t":2012.14,"lo":2.10,"hi":2.34},{"s":19,"c":"P","t":2012.18,"lo":2.15,"hi":2.35},
{"s":20,"c":"N","t":2012.18,"lo":2.15,"hi":2.35},{"s":20,"c":"N","t":2012.22,"lo":2.14,"hi":2.39},{"s":20,"c":"N","t":2012.27,"lo":2.18,"hi":2.30},
{"s":21,"c":"P","t":2012.27,"lo":2.18,"hi":2.30},{"s":21,"c":"P","t":2012.32,"lo":2.22,"hi":2.29},{"s":21,"c":"P","t":2012.38,"lo":2.24,"hi":2.43},{"s":21,"c":"P","t":2012.41,"lo":2.34,"hi":2.63},{"s":21,"c":"P","t":2012.47,"lo":2.24,"hi":2.48},{"s":21,"c":"P","t":2012.54,"lo":2.19,"hi":2.48},{"s":21,"c":"P","t":2012.62,"lo":2.22,"hi":2.48},{"s":21,"c":"P","t":2012.66,"lo":2.25,"hi":2.40},
{"s":22,"c":"N","t":2012.66,"lo":2.25,"hi":2.40},{"s":22,"c":"N","t":2012.69,"lo":2.20,"hi":2.30},
{"s":23,"c":"P","t":2012.69,"lo":2.18,"hi":2.28},{"s":23,"c":"P","t":2012.75,"lo":2.14,"hi":2.24},{"s":23,"c":"P","t":2012.82,"lo":2.00,"hi":2.29},{"s":23,"c":"P","t":2012.88,"lo":1.86,"hi":2.34},{"s":23,"c":"P","t":2012.94,"lo":1.78,"hi":2.29},{"s":23,"c":"P","t":2012.98,"lo":1.85,"hi":2.24},{"s":23,"c":"P","t":2012.995,"lo":2.00,"hi":2.25},
{"s":24,"c":"N","t":2012.995,"lo":2.00,"hi":2.25},{"s":24,"c":"N","t":2013.04,"lo":2.10,"hi":2.53},{"s":24,"c":"N","t":2013.09,"lo":2.10,"hi":2.24},{"s":24,"c":"N","t":2013.16,"lo":2.02,"hi":2.10},{"s":24,"c":"N","t":2013.27,"lo":1.98,"hi":2.08},{"s":24,"c":"N","t":2013.36,"lo":1.86,"hi":2.00},{"s":24,"c":"N","t":2013.42,"lo":1.95,"hi":2.24},{"s":24,"c":"N","t":2013.50,"lo":2.05,"hi":2.41},{"s":24,"c":"N","t":2013.56,"lo":1.95,"hi":2.10},{"s":24,"c":"N","t":2013.59,"lo":1.90,"hi":2.00},
{"s":25,"c":"P","t":2013.59,"lo":1.90,"hi":2.00},{"s":25,"c":"P","t":2013.65,"lo":1.86,"hi":1.98},{"s":25,"c":"P","t":2013.72,"lo":1.88,"hi":1.97},{"s":25,"c":"P","t":2013.78,"lo":1.86,"hi":1.99},{"s":25,"c":"P","t":2013.82,"lo":1.90,"hi":2.00},
{"s":26,"c":"N","t":2013.82,"lo":1.90,"hi":2.00},{"s":26,"c":"N","t":2013.87,"lo":1.85,"hi":2.02},{"s":26,"c":"N","t":2013.92,"lo":1.81,"hi":2.05},{"s":26,"c":"N","t":2013.98,"lo":1.76,"hi":2.14},{"s":26,"c":"N","t":2014.03,"lo":1.76,"hi":2.24},{"s":26,"c":"N","t":2014.09,"lo":1.81,"hi":2.10},{"s":26,"c":"N","t":2014.16,"lo":1.66,"hi":1.86},{"s":26,"c":"N","t":2014.22,"lo":1.61,"hi":1.76},{"s":26,"c":"N","t":2014.31,"lo":1.61,"hi":1.81},{"s":26,"c":"N","t":2014.41,"lo":1.61,"hi":1.86},{"s":26,"c":"N","t":2014.46,"lo":1.57,"hi":1.76},{"s":26,"c":"N","t":2014.52,"lo":1.61,"hi":1.81},{"s":26,"c":"N","t":2014.59,"lo":1.71,"hi":1.90},{"s":26,"c":"N","t":2014.67,"lo":1.66,"hi":1.81},{"s":26,"c":"N","t":2014.74,"lo":1.75,"hi":1.85},
{"s":27,"c":"P","t":2014.74,"lo":1.75,"hi":1.85},{"s":27,"c":"P","t":2014.77,"lo":1.90,"hi":2.00},{"s":27,"c":"P","t":2014.83,"lo":1.71,"hi":1.95},{"s":27,"c":"P","t":2014.88,"lo":1.66,"hi":1.98},{"s":27,"c":"P","t":2014.94,"lo":1.86,"hi":2.34},{"s":27,"c":"P","t":2014.96,"lo":1.86,"hi":2.14},{"s":27,"c":"P","t":2014.98,"lo":1.90,"hi":2.20}
]
},
"vconcat": [
{
"width": 2569, "height": 678,
"layer": [
{"data": {"name": "top"},
 "mark": {"type": "area", "opacity": 1},
 "encoding": {
  "x": {"field": "t", "type": "quantitative", "scale": {"domain": [2004.24, 2015.24], "nice": false, "zero": false},
        "axis": {"title": null, "values": [2005,2006,2007,2008,2009,2010,2011,2012,2013,2014,2015],
                 "labelExpr": "datum.value % 2 == 0 ? '' + datum.value : ''", "labelOverlap": false, "labelFlush": false,
                 "labelFontSize": 48, "labelColor": "#4d4d4d", "labelPadding": 2,
                 "tickSize": 6, "tickWidth": 2, "tickColor": "#333333",
                 "tickOpacity": {"condition": {"test": "datum.value % 2 == 0", "value": 1}, "value": 0},
                 "domainColor": "#000000", "domainWidth": 2,
                 "grid": true, "gridColor": "#c8c8c8", "gridWidth": 1.5, "gridDash": [4, 4]}},
  "y": {"field": "hi", "type": "quantitative", "scale": {"domain": [1.243, 7.273], "nice": false, "zero": false},
        "axis": {"title": null, "values": [1.5,2,2.5,3,3.5,4,4.5,5,5.5,6,6.5,7],
                 "labelExpr": "datum.value % 1 == 0 ? '' + datum.value : ''", "labelOverlap": false, "labelFlush": false,
                 "labelFontSize": 48, "labelColor": "#4d4d4d", "labelPadding": 6,
                 "tickSize": 6, "tickWidth": 2, "tickColor": "#333333",
                 "tickOpacity": {"condition": {"test": "datum.value % 1 == 0", "value": 1}, "value": 0},
                 "domainColor": "#000000", "domainWidth": 2,
                 "grid": true, "gridColor": "#c8c8c8", "gridWidth": 1.5, "gridDash": [3, 3]}},
  "y2": {"field": "lo"},
  "color": {"field": "c", "type": "nominal", "scale": {"domain": ["P", "N"], "range": ["#CB2628", "#338AE6"]},
            "legend": {"title": null, "orient": "none", "legendX": 1923, "legendY": 36, "symbolType": "square", "symbolSize": 2304,
                       "symbolStrokeWidth": 0, "symbolOpacity": 1, "labelFontSize": 54, "labelColor": "#000000", "labelOffset": 16,
                       "rowPadding": -8, "padding": 0, "labelLimit": 0,
                       "labelExpr": "datum.value == 'P' ? 'Positive risk premium' : 'Negative risk premium'"}},
  "detail": {"field": "s"}
 }},
{"data": {"values": [{"label": "CRP correlated with\nbusiness cycle"}]},
 "mark": {"type": "text", "align": "left", "baseline": "alphabetic", "fontSize": 61, "lineHeight": 95, "lineBreak": "\n", "color": "#000000"},
 "encoding": {"x": {"datum": 2004.85}, "y": {"datum": 6.40}, "text": {"field": "label"}}}
]
},
{
"width": 2569, "height": 678,
"layer": [
{"data": {"name": "bottom"},
 "mark": {"type": "area", "opacity": 1},
 "encoding": {
  "x": {"field": "t", "type": "quantitative", "scale": {"domain": [2004.24, 2015.24], "nice": false, "zero": false},
        "axis": {"title": null, "values": [2005,2006,2007,2008,2009,2010,2011,2012,2013,2014,2015],
                 "labelExpr": "datum.value % 2 == 0 ? '' + datum.value : ''", "labelOverlap": false, "labelFlush": false,
                 "labelFontSize": 48, "labelColor": "#4d4d4d", "labelPadding": 2,
                 "tickSize": 6, "tickWidth": 2, "tickColor": "#333333",
                 "tickOpacity": {"condition": {"test": "datum.value % 2 == 0", "value": 1}, "value": 0},
                 "domainColor": "#000000", "domainWidth": 2,
                 "grid": true, "gridColor": "#c8c8c8", "gridWidth": 1.5, "gridDash": [4, 4]}},
  "y": {"field": "hi", "type": "quantitative", "scale": {"domain": [1.243, 7.273], "nice": false, "zero": false},
        "axis": {"title": null, "values": [1.5,2,2.5,3,3.5,4,4.5,5,5.5,6,6.5,7],
                 "labelExpr": "datum.value % 1 == 0 ? '' + datum.value : ''", "labelOverlap": false, "labelFlush": false,
                 "labelFontSize": 48, "labelColor": "#4d4d4d", "labelPadding": 6,
                 "tickSize": 6, "tickWidth": 2, "tickColor": "#333333",
                 "tickOpacity": {"condition": {"test": "datum.value % 1 == 0", "value": 1}, "value": 0},
                 "domainColor": "#000000", "domainWidth": 2,
                 "grid": true, "gridColor": "#c8c8c8", "gridWidth": 1.5, "gridDash": [3, 3]}},
  "y2": {"field": "lo"},
  "color": {"field": "c", "type": "nominal", "scale": {"domain": ["P", "N"], "range": ["#CB2628", "#338AE6"]},
            "legend": {"title": null, "orient": "none", "legendX": 1923, "legendY": 36, "symbolType": "square", "symbolSize": 2304,
                       "symbolStrokeWidth": 0, "symbolOpacity": 1, "labelFontSize": 54, "labelColor": "#000000", "labelOffset": 16,
                       "rowPadding": -8, "padding": 0, "labelLimit": 0,
                       "labelExpr": "datum.value == 'P' ? 'Positive risk premium' : 'Negative risk premium'"}},
  "detail": {"field": "s"}
 }},
{"data": {"values": [{"label": "CRP orthogonal to\nbusiness cycle"}]},
 "mark": {"type": "text", "align": "left", "baseline": "alphabetic", "fontSize": 61, "lineHeight": 95, "lineBreak": "\n", "color": "#000000"},
 "encoding": {"x": {"datum": 2004.85}, "y": {"datum": 6.40}, "text": {"field": "label"}}}
]
}
]
}
